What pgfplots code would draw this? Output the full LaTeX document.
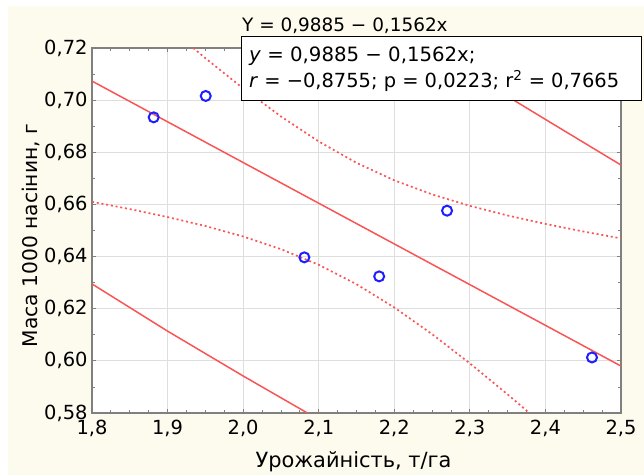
\documentclass[border=0pt]{standalone}
\usepackage{pgfplots}
\pgfplotsset{compat=1.18}
\usepackage{fontspec}
\setmainfont{DejaVu Sans}
\definecolor{cream}{RGB}{253,250,238}
\definecolor{redl}{RGB}{250,85,85}
\definecolor{gridc}{RGB}{222,222,222}
\definecolor{axc}{RGB}{128,128,128}
\definecolor{ptc}{RGB}{30,30,255}
\begin{document}
\begin{tikzpicture}[x=1bp,y=1bp]
\fill[white] (0,0) rectangle (644,475);
\fill[cream] (8,0) rectangle (644,469);
\useasboundingbox (0,0) rectangle (644,475);
\begin{axis}[at={(92bp,62bp)}, anchor=south west, scale only axis,
  width=529bp, height=365bp,
  xmin=1.8, xmax=2.5, ymin=0.58, ymax=0.72,
  xtick={1.8,1.9,2.0,2.1,2.2,2.3,2.4,2.5},
  ytick={0.58,0.60,0.62,0.64,0.66,0.68,0.70,0.72},
  minor x tick num=3, minor y tick num=1,
  grid=major, major grid style={gridc, line width=1bp},
  axis line style={axc, line width=1.6bp},
  tick style={axc, line width=0.8bp}, tick align=inside,
  major tick length=4bp, minor tick length=3bp,
  axis background/.style={fill=white},
  font=\fontsize{19.5}{22}\selectfont,
  /pgf/number format/assume math mode=true,
  /pgf/number format/use comma,
  xticklabel style={yshift=-4bp, /pgf/number format/.cd, fixed, fixed zerofill, precision=1},
  yticklabel style={xshift=-1bp, /pgf/number format/.cd, fixed, fixed zerofill, precision=2},
  xlabel={Урожайність, т/га},
  ylabel={Маса 1000 насінин, г},
  every axis x label/.style={at={(axis description cs:0.5,0)}, anchor=base, yshift=-55bp, xshift=-3bp, font=\fontsize{21}{24}\selectfont},
  every axis y label/.style={at={(axis description cs:-0.1021,0.486)}, rotate=90, anchor=base, font=\fontsize{20.3}{24}\selectfont},
  clip=true,
]
% confidence band (upper)
\addplot[redl, line width=1.7bp, dash pattern=on 2bp off 2.8bp] coordinates {
(1.90,0.72828) (1.95,0.71610) (2.00,0.7045) (2.05,0.69374) (2.10,0.68415)
(2.15,0.67594) (2.20,0.66924) (2.25,0.66385) (2.30,0.65945) (2.35,0.65575)
(2.40,0.65252) (2.45,0.64962) (2.50,0.64696)};
% confidence band (lower)
\addplot[redl, line width=1.7bp, dash pattern=on 2bp off 2.8bp] coordinates {
(1.80,0.6610) (1.85,0.65821) (1.90,0.65516) (1.95,0.65172) (2.00,0.6477)
(2.05,0.64284) (2.10,0.63685) (2.15,0.6294) (2.20,0.62048) (2.25,0.61025)
(2.30,0.59903) (2.35,0.58711) (2.40,0.57472)};
% regression line
\addplot[redl, line width=1.5bp] coordinates {(1.8,0.7073) (2.5,0.5980)};
% prediction band
\addplot[redl, line width=1.5bp] coordinates {(1.8,0.6295) (1.9,0.6114) (2.0,0.5942) (2.085,0.5800) (2.1,0.5775)};
\addplot[redl, line width=1.5bp] coordinates {(2.24,0.7207) (2.362,0.6993) (2.4,0.6926) (2.5,0.6751)};
% data
\addplot[only marks, mark=o, mark size=5bp, mark options={ptc, line width=2bp}] coordinates {
(1.8816,0.6934) (1.9505,0.7016) (2.081,0.6397) (2.180,0.6324) (2.2698,0.6576) (2.4616,0.6013)};
\end{axis}
\fill[white, draw=black, line width=0.9bp] (241,375) rectangle (641,439);
\node[anchor=base west, inner sep=0pt, font=\fontsize{19.8}{22}\selectfont] at (249,413.5) {\textit{y} = 0,9885 − 0,1562x;};
\node[anchor=base west, inner sep=0pt, font=\fontsize{19.5}{22}\selectfont] at (249,387) {\textit{r} = −0,8755; p = 0,0223; r\textsuperscript{2} = 0,7665};
\node[anchor=base west, inner sep=0pt, font=\fontsize{18.5}{20}\selectfont] at (242,443) {Y = 0,9885 − 0,1562x};
\end{tikzpicture}
\end{document}
